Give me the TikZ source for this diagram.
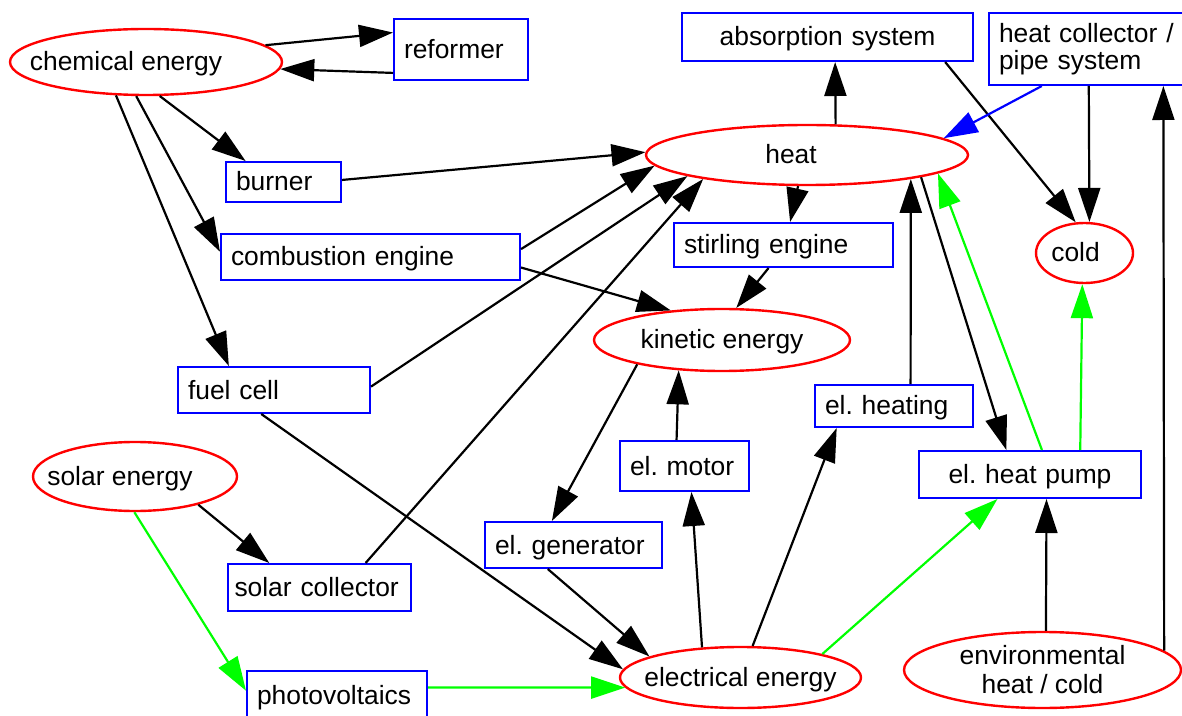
\documentclass[tikz,border=0pt]{standalone}
\usepackage{fontspec}
\setmainfont{Liberation Sans}
\usetikzlibrary{shapes.geometric,arrows.meta}
\frenchspacing
\hyphenpenalty=10000

\begin{document}
\begin{tikzpicture}[x=0.5pt,y=-0.5pt,
	font=\fontsize{13.2}{13.5}\selectfont,
	form/.style={draw=red,line width=1.2pt,ellipse,inner sep=0pt},
	conv/.style={draw=blue,line width=1pt,rectangle,inner xsep=5pt,inner ysep=0pt,align=left},
	one/.style={text height=9.5pt,text depth=0.5pt},
	flow/.style={->,line width=1.1pt},
	gflow/.style={flow,draw=green},
	bflow/.style={flow,draw=blue},
	>={Triangle[length=17pt,width=11pt]}]
	
	\useasboundingbox (0,0) rectangle (1182,716);
	
	% forms of energy
	\node[form,one,minimum width=136pt,minimum height=33pt] (chem) at (146,62) {\hspace*{-20pt}chemical energy};
	\node[form,one,minimum width=161pt,minimum height=30pt] (heat) at (807,155) {\hspace*{-16pt}heat};
	\node[form,one,minimum width=48.5pt,minimum height=30pt] (cold) at (1084.5,253) {\hspace*{-9pt}cold};
	\node[form,one,minimum width=128pt,minimum height=31pt] (kin) at (722,340) {kinetic energy};
	\node[form,one,minimum width=102pt,minimum height=34.5pt] (sol) at (135,476.5) {\hspace*{-15pt}solar energy};
	\node[form,one,minimum width=120.5pt,minimum height=30.5pt,inner xsep=-8pt] (elec) at (740.5,677.5) {electrical energy};
	\node[form,minimum width=138.5pt,minimum height=38pt,align=center,font=\fontsize{13.2}{14.5}\selectfont] (env) at (1042.5,670) {environmental\\heat / cold};
	
	% converters
	\node[conv,one,text width=57pt,minimum height=30.5pt] (ref) at (461,49.5) {reformer};
	\node[conv,one,text width=135.5pt,minimum height=24pt,align=center] (absorp) at (827.5,37) {absorption system};
	\node[conv,text width=88.5pt,minimum height=36pt] (hc) at (1087.5,49) {heat collector /\\pipe system};
	\node[conv,one,text width=47.5pt,minimum height=20pt] (burner) at (283.5,182) {burner};
	\node[conv,one,text width=139.5pt,minimum height=23pt] (comb) at (370.5,257) {combustion engine};
	\node[conv,one,text width=99.5pt,minimum height=22pt] (stir) at (783.5,245) {stirling engine};
	\node[conv,one,text width=86pt,minimum height=23pt] (fuel) at (274,390) {fuel cell};
	\node[conv,one,text width=69pt,minimum height=21pt] (htg) at (894,406) {el. heating};
	\node[conv,one,text width=54.5pt,minimum height=25pt] (motor) at (684.5,466) {el. motor};
	\node[conv,one,text width=101pt,minimum height=23.5pt,align=center] (hp) at (1030,474.5) {el. heat pump};
	\node[conv,one,text width=78.5pt,minimum height=23pt] (gen) at (573.5,545) {el. generator};
	\node[conv,one,text width=85pt,inner xsep=3.25pt,minimum height=23.5pt] (sc) at (319.5,587.5) {solar collector};
	\node[conv,one,text width=80pt,minimum height=24.5pt] (pv) at (337,695.5) {photovoltaics};
	
	% flows
	\draw[flow] (chem.8) -- (ref.166);
	\draw[flow] (ref.199) -- (chem.357);
	\draw[flow] (chem.292) -- (burner.151);
	\draw[flow] (chem.254) -- (comb.178);
	\draw[flow] (chem.228) -- (fuel.152);
	\draw[flow] (burner.2) -- (heat.179);
	\draw[flow] (comb.3) -- (heat.184);
	\draw[flow] (comb.356) -- (kin.150);
	\draw[flow] (fuel.2) -- (heat.190);
	\draw[flow] (sc.28) -- (heat.193);
	\draw[flow] (fuel.242) -- (elec.176);
	\draw[flow] (heat.47) -- (absorp.287);
	\draw[flow] (absorp.348) -- (cold.106);
	\draw[bflow] (hc.219) -- (heat.7);
	\draw[flow] (hc.272) -- (cold.81);
	\draw[flow] (env.9) -- (hc.334);
	\draw[flow] (heat.254) -- (stir.74);
	\draw[flow] (stir.237) -- (kin.66);
	\draw[flow] (kin.196) -- (gen.132);
	\draw[flow] (motor.107) -- (kin.215);
	\draw[flow] (gen.223) -- (elec.167);
	\draw[flow] (elec.142) -- (motor.285);
	\draw[flow] (elec.69) -- (htg.201);
	\draw[flow] (htg.53) -- (heat.347);
	\draw[flow] (heat.349) -- (hp.134);
	\draw[gflow] (hp.64) -- (heat.352);
	\draw[gflow] (hp.26) -- (cold.266);
	\draw[gflow] (elec.16) -- (hp.217);
	\draw[flow] (env.85) -- (hp.304);
	\draw[flow] (sol.336) -- (sc.154);
	\draw[gflow] (sol.269) -- (pv.177);
	\draw[gflow] (pv.5) -- (elec.185);
\end{tikzpicture}
\end{document}
